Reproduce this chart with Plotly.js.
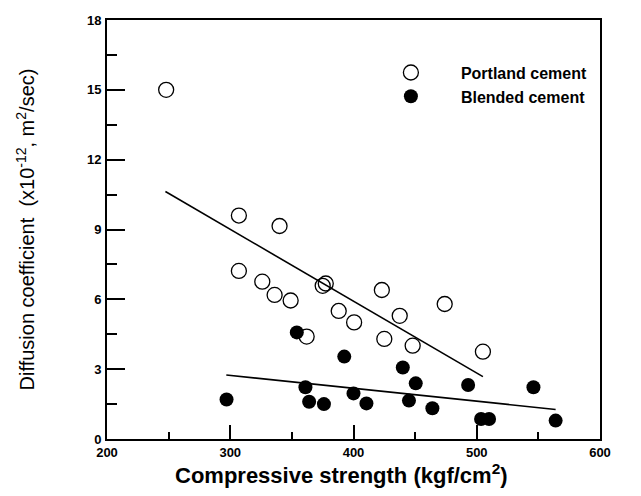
<!DOCTYPE html>
<html>
<head>
<meta charset="utf-8">
<script src="https://cdn.plot.ly/plotly-3.0.1.min.js"></script>
<style>html,body{margin:0;padding:0;background:#fff;}#chart{width:641px;height:496px;}</style>
</head>
<body>
<div id="chart"></div>
<script>
// Portland cement (open circles)
var portlandX = [248, 307, 340, 307, 326, 336, 349, 375, 377.5, 388, 400.5, 423, 437.5, 474, 362, 425, 448, 505];
var portlandY = [15.0, 9.6, 9.15, 7.22, 6.76, 6.19, 5.95, 6.58, 6.68, 5.50, 5.01, 6.40, 5.29, 5.80, 4.40, 4.30, 4.01, 3.75];
// Blended cement (filled circles)
var blendedX = [297, 354, 361, 364, 376, 392.5, 400, 410.5, 440, 450.5, 445, 464, 493, 503.5, 510, 546, 564];
var blendedY = [1.70, 4.58, 2.22, 1.60, 1.50, 3.54, 1.96, 1.53, 3.07, 2.39, 1.65, 1.32, 2.32, 0.86, 0.86, 2.22, 0.79];
// Fitted trend lines (end points)
var portlandFitX = [247.4, 505];
var portlandFitY = [10.63, 2.68];
var blendedFitX = [296.8, 564];
var blendedFitY = [2.75, 1.27];
// Axis ticks
var xTicks = [200, 300, 400, 500, 600];
var yTicks = [0, 3, 6, 9, 12, 15, 18];

var FONT = 'Liberation Sans, Arial, sans-serif';

var traces = [
  {x: portlandFitX, y: portlandFitY, mode: 'lines', line: {color: '#000', width: 1.6}, showlegend: false, hoverinfo: 'skip'},
  {x: blendedFitX, y: blendedFitY, mode: 'lines', line: {color: '#000', width: 1.6}, showlegend: false, hoverinfo: 'skip'},
  {x: portlandX, y: portlandY, mode: 'markers', name: '<b>Portland cement</b>',
   marker: {symbol: 'circle-open', size: 15, color: '#000', line: {width: 1.3, color: '#000'}}},
  {x: blendedX, y: blendedY, mode: 'markers', name: '<b>Blended cement</b>',
   marker: {symbol: 'circle', size: 14, color: '#000', line: {width: 0}}}
];

var axisCommon = {
  showgrid: false, zeroline: false, showline: true, mirror: true,
  linecolor: '#000', linewidth: 2, ticks: 'inside', tickcolor: '#000', tickwidth: 2,
  tickfont: {family: FONT, size: 13, color: '#000', weight: 'bold'}
};

var layout = {
  width: 641, height: 496,
  margin: {l: 107, r: 40.5, t: 20, b: 57},
  paper_bgcolor: '#fff', plot_bgcolor: '#fff',
  font: {family: FONT, color: '#000'},
  showlegend: true,
  legend: {x: 0.515, y: 0.915, xanchor: 'left', yanchor: 'top', bgcolor: 'rgba(0,0,0,0)',
           font: {family: FONT, size: 16, color: '#000'}, itemwidth: 90, tracegroupgap: 0},
  xaxis: Object.assign({}, axisCommon, {
    range: [200, 600], tickmode: 'array', tickvals: xTicks, ticktext: xTicks.map(String),
    ticklen: 14,
    minor: {dtick: 50, tick0: 200, ticks: 'inside', ticklen: 7, tickwidth: 2, tickcolor: '#000', showgrid: false},
    title: {text: '<b>Compressive strength (kgf/cm<sup>2</sup>)</b>&nbsp;&nbsp;&nbsp;&nbsp;', font: {family: FONT, size: 22, color: '#000'}, standoff: 8}
  }),
  yaxis: Object.assign({}, axisCommon, {
    range: [0, 18], tickmode: 'array', tickvals: yTicks, ticktext: yTicks.map(String),
    ticklen: 18, ticklabelstandoff: 1,
    minor: {dtick: 1.5, tick0: 0, ticks: 'inside', ticklen: 10, tickwidth: 2, tickcolor: '#000', showgrid: false},
    title: {text: 'Diffusion coefficient  (x10<sup>-12</sup>, m<sup>2</sup>/sec)', font: {family: FONT, size: 20, color: '#000'}, standoff: 47}
  })
};

Plotly.newPlot('chart', traces, layout, {displayModeBar: false, staticPlot: true});
</script>
</body>
</html>
